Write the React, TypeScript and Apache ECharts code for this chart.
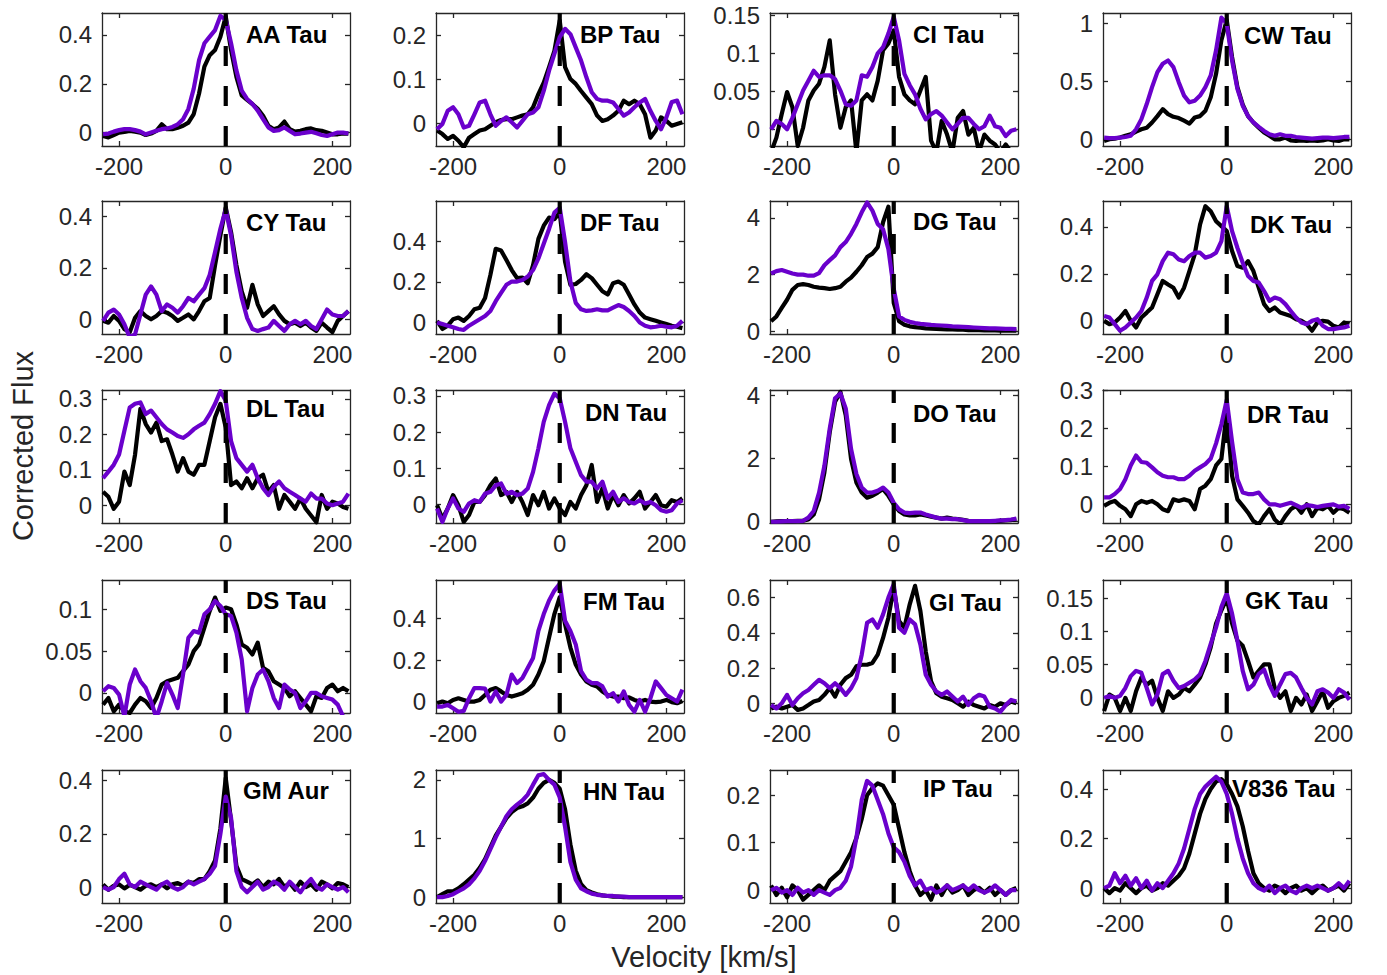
import React, { useEffect, useRef } from "react";
import * as echarts from "echarts";

// ---------------- DATA ----------------
const VELOCITY = [
  -230, -220, -210, -200, -190, -180, -170, -160, -150, -140,
  -130, -120, -110, -100, -90, -80, -70, -60, -50, -40,
  -30, -20, -10, 0, 10, 20, 30, 40, 50, 60,
  70, 80, 90, 100, 110, 120, 130, 140, 150, 160,
  170, 180, 190, 200, 210, 220, 230,
];

const X_TICKS = [-200, 0, 200];

const STARS = [
  "AA Tau", "BP Tau", "CI Tau", "CW Tau",
  "CY Tau", "DF Tau", "DG Tau", "DK Tau",
  "DL Tau", "DN Tau", "DO Tau", "DR Tau",
  "DS Tau", "FM Tau", "GI Tau", "GK Tau",
  "GM Aur", "HN Tau", "IP Tau", "V836 Tau",
];

const Y_MIN = [
  -0.055, -0.052, -0.022, -0.058,
  -0.057, -0.057, -0.1, -0.056,
  -0.05, -0.051, -0.04, -0.049,
  -0.024, -0.055, -0.055, -0.024,
  -0.06, -0.1, -0.027, -0.06,
];
const Y_MAX = [
  0.49, 0.25, 0.153, 1.09,
  0.46, 0.6, 4.6, 0.51,
  0.325, 0.316, 4.16, 0.3,
  0.135, 0.585, 0.7, 0.178,
  0.44, 2.17, 0.253, 0.477,
];
const Y_TICKS = [
  [0, 0.2, 0.4], [0, 0.1, 0.2], [0, 0.05, 0.1, 0.15], [0, 0.5, 1],
  [0, 0.2, 0.4], [0, 0.2, 0.4], [0, 2, 4], [0, 0.2, 0.4],
  [0, 0.1, 0.2, 0.3], [0, 0.1, 0.2, 0.3], [0, 2, 4], [0, 0.1, 0.2, 0.3],
  [0, 0.05, 0.1], [0, 0.2, 0.4], [0, 0.2, 0.4, 0.6], [0, 0.05, 0.1, 0.15],
  [0, 0.2, 0.4], [0, 1, 2], [0, 0.1, 0.2], [0, 0.2, 0.4],
];

const AA_TAU_BLACK = [
  -0.014, -0.02, -0.01, 0, 0.003, 0.007, 0.004, 0, -0.01, -0.004,
  0.007, 0.034, 0.014, 0.014, 0.02, 0.028, 0.041, 0.076, 0.16, 0.27,
  0.317, 0.338, 0.393, 0.476, 0.338, 0.228, 0.152, 0.134, 0.117, 0.097,
  0.069, 0.028, 0.014, 0.021, 0.045, 0.014, 0.004, 0.007, 0.014, 0.017,
  0.01, 0.007, 0, -0.007, -0.007, -0.003, -0.004,
];
const AA_TAU_PURPLE = [
  -0.007, -0.004, 0.004, 0.01, 0.014, 0.014, 0.01, 0.004, -0.007, 0,
  0.007, 0.014, 0.017, 0.023, 0.034, 0.055, 0.097, 0.18, 0.297, 0.366,
  0.393, 0.42, 0.478, 0.462, 0.366, 0.255, 0.172, 0.138, 0.117, 0.09,
  0.055, 0.021, 0.007, 0.01, 0.021, 0.007, -0.007, -0.004, 0, 0.003,
  -0.003, -0.01, -0.014, -0.007, 0, 0, -0.004,
];
const BP_TAU_BLACK = [
  -0.017, -0.025, -0.036, -0.029, -0.04, -0.055, -0.033, -0.025, -0.017, -0.014,
  -0.006, 0.002, 0.007, 0.009, 0.009, 0.013, 0.017, 0.02, 0.036, 0.066,
  0.092, 0.127, 0.164, 0.233, 0.127, 0.1, 0.089, 0.073, 0.058, 0.043,
  0.017, 0.005, 0.009, 0.017, 0.028, 0.051, 0.043, 0.051, 0.043, 0.02,
  -0.033, -0.017, 0.013, 0.005, -0.006, -0.002, 0.002,
];
const BP_TAU_PURPLE = [
  -0.014, -0.002, 0.028, 0.036, 0.02, -0.01, -0.006, 0.02, 0.047, 0.051,
  0.02, -0.006, 0.005, 0.013, 0.002, -0.01, 0.005, 0.02, 0.024, 0.036,
  0.073, 0.119, 0.157, 0.195, 0.214, 0.202, 0.172, 0.142, 0.104, 0.07,
  0.055, 0.051, 0.051, 0.047, 0.032, 0.017, 0.024, 0.036, 0.047, 0.055,
  0.028, 0.005, -0.014, 0.013, 0.048, 0.051, 0.02,
];
const CI_TAU_BLACK = [
  -0.03, -0.011, 0.02, 0.049, 0.029, -0.022, 0.002, 0.038, 0.051, 0.06,
  0.082, 0.117, 0.046, 0.002, 0.029, 0.038, -0.03, 0.038, 0.046, 0.038,
  0.064, 0.104, 0.113, 0.13, 0.069, 0.046, 0.038, 0.033, 0.051, 0.069,
  -0.015, -0.03, 0.011, -0.007, -0.03, 0.015, 0.024, -0.007, 0.002, -0.03,
  -0.007, -0.015, -0.02, -0.03, -0.02, -0.03, -0.03,
];
const CI_TAU_PURPLE = [
  0, 0.011, 0.007, 0, 0.015, 0.033, 0.051, 0.064, 0.077, 0.069,
  0.071, 0.071, 0.066, 0.051, 0.033, 0.031, 0.038, 0.071, 0.069, 0.082,
  0.1, 0.108, 0.126, 0.148, 0.117, 0.073, 0.058, 0.046, 0.027, 0.013,
  0.02, 0.024, 0.018, 0.009, 0, 0.007, 0.015, 0.015, 0.007, 0,
  0.004, 0.018, 0.004, 0.002, -0.009, -0.002, 0,
];
const CW_TAU_BLACK = [
  -0.015, 0, 0.006, 0.015, 0.03, 0.043, 0.067, 0.087, 0.1, 0.145,
  0.2, 0.26, 0.217, 0.194, 0.183, 0.16, 0.136, 0.188, 0.2, 0.246,
  0.362, 0.565, 0.855, 1.03, 0.71, 0.45, 0.3, 0.2, 0.145, 0.1,
  0.058, 0.03, 0, 0, 0.015, -0.01, -0.015, -0.01, -0.015, -0.01,
  -0.015, -0.01, 0, -0.01, -0.015, 0, 0,
];
const CW_TAU_PURPLE = [
  0.015, 0.01, 0.01, 0.015, 0.02, 0.03, 0.087, 0.174, 0.304, 0.45,
  0.58, 0.652, 0.68, 0.623, 0.493, 0.377, 0.319, 0.333, 0.377, 0.45,
  0.551, 0.768, 1.05, 1.0, 0.68, 0.435, 0.29, 0.2, 0.145, 0.107,
  0.072, 0.043, 0.03, 0.043, 0.03, 0.03, 0.02, 0.015, 0.01, 0.006,
  0.01, 0.015, 0.015, 0.01, 0.015, 0.02, 0.02,
];
const CY_TAU_BLACK = [
  -0.006, -0.013, 0.013, -0.006, -0.038, -0.05, 0.006, 0.032, 0.013, 0,
  0.013, 0.032, 0.026, 0.013, -0.006, 0.006, 0.019, 0, 0.032, 0.07,
  0.083, 0.211, 0.326, 0.435, 0.339, 0.211, 0.109, 0.045, 0.134, 0.058,
  0.013, 0.032, 0.051, 0.019, -0.006, -0.019, -0.013, -0.026, -0.013, -0.032,
  -0.045, -0.013, -0.032, -0.05, -0.006, 0.013, 0.032,
];
const CY_TAU_PURPLE = [
  -0.006, 0.026, 0.038, 0.019, -0.019, -0.07, -0.058, 0.019, 0.096, 0.128,
  0.096, 0.032, 0.058, 0.045, 0.026, 0.051, 0.083, 0.07, 0.096, 0.121,
  0.173, 0.262, 0.352, 0.428, 0.326, 0.185, 0.083, 0.006, -0.038, -0.045,
  -0.038, -0.032, -0.006, -0.026, -0.045, -0.019, -0.006, -0.019, -0.006, -0.026,
  -0.038, 0, 0.038, 0.019, 0.013, 0.013, 0.032,
];
const DF_TAU_BLACK = [
  0.008, -0.032, -0.016, 0.016, 0.024, 0.008, 0.032, 0.065, 0.073, 0.121,
  0.235, 0.364, 0.356, 0.308, 0.259, 0.219, 0.222, 0.194, 0.283, 0.413,
  0.478, 0.518, 0.51, 0.543, 0.3, 0.186, 0.19, 0.21, 0.238, 0.219,
  0.186, 0.154, 0.138, 0.194, 0.202, 0.186, 0.138, 0.089, 0.049, 0.024,
  0.016, 0.008, 0, -0.008, -0.016, -0.021, -0.028,
];
const DF_TAU_PURPLE = [
  0, -0.008, -0.016, -0.024, -0.032, -0.037, -0.016, 0, 0.016, 0.032,
  0.057, 0.105, 0.146, 0.186, 0.202, 0.202, 0.21, 0.227, 0.259, 0.316,
  0.389, 0.462, 0.543, 0.567, 0.397, 0.202, 0.097, 0.065, 0.057, 0.06,
  0.065, 0.06, 0.06, 0.073, 0.086, 0.076, 0.057, 0.032, 0, -0.016,
  -0.024, -0.021, -0.016, -0.021, -0.024, -0.016, 0.008,
];
const DG_TAU_BLACK = [
  0.35, 0.52, 0.82, 1.11, 1.46, 1.63, 1.66, 1.63, 1.57, 1.54,
  1.52, 1.49, 1.52, 1.57, 1.75, 1.89, 2.1, 2.33, 2.62, 2.74,
  2.97, 3.85, 4.4, 1.0, 0.35, 0.23, 0.17, 0.14, 0.12, 0.1,
  0.09, 0.08, 0.07, 0.06, 0.06, 0.05, 0.05, 0.04, 0.04, 0.04,
  0.03, 0.03, 0.03, 0.02, 0.02, 0.02, 0.02,
];
const DG_TAU_PURPLE = [
  2.04, 2.12, 2.16, 2.1, 2.04, 2.0, 2.0, 1.96, 1.96, 2.05,
  2.33, 2.51, 2.68, 2.97, 3.15, 3.44, 3.79, 4.2, 4.55, 4.26,
  3.79, 3.6, 2.9, 1.5, 0.52, 0.4, 0.33, 0.29, 0.26, 0.24,
  0.22, 0.21, 0.2, 0.19, 0.17, 0.16, 0.15, 0.14, 0.13, 0.12,
  0.11, 0.1, 0.1, 0.09, 0.08, 0.08, 0.07,
];
const DK_TAU_BLACK = [
  0, -0.014, -0.007, 0.014, 0.042, 0, -0.028, 0.014, 0.035, 0.057,
  0.113, 0.17, 0.155, 0.141, 0.099, 0.141, 0.212, 0.283, 0.41, 0.488,
  0.466, 0.424, 0.403, 0.382, 0.297, 0.233, 0.226, 0.254, 0.212, 0.141,
  0.071, 0.042, 0.057, 0.035, 0.028, 0.021, 0.007, 0, -0.014, -0.042,
  -0.007, 0, -0.003, -0.021, -0.028, -0.007, -0.014,
];
const DK_TAU_PURPLE = [
  0.021, 0.014, -0.014, -0.042, -0.028, -0.007, 0.014, 0.042, 0.099, 0.17,
  0.198, 0.254, 0.29, 0.283, 0.261, 0.254, 0.276, 0.29, 0.29, 0.269,
  0.276, 0.29, 0.339, 0.488, 0.382, 0.311, 0.247, 0.191, 0.17, 0.163,
  0.127, 0.085, 0.099, 0.092, 0.071, 0.042, 0.014, -0.007, -0.014, 0,
  0.007, -0.021, -0.035, -0.035, -0.031, -0.028, -0.021,
];
const DL_TAU_BLACK = [
  0.038, 0.024, -0.01, 0.01, 0.095, 0.057, 0.143, 0.272, 0.229, 0.205,
  0.233, 0.181, 0.186, 0.143, 0.095, 0.133, 0.095, 0.086, 0.114, 0.114,
  0.181, 0.248, 0.286, 0.219, 0.057, 0.067, 0.048, 0.076, 0.048, 0.076,
  0.086, 0.038, 0.057, -0.01, 0.029, 0.01, -0.01, 0.019, -0.01, -0.029,
  -0.048, 0.029, -0.01, 0.01, 0.005, -0.005, -0.01,
];
const DL_TAU_PURPLE = [
  0.076, 0.095, 0.114, 0.143, 0.21, 0.276, 0.286, 0.29, 0.257, 0.267,
  0.248, 0.229, 0.214, 0.205, 0.195, 0.19, 0.2, 0.214, 0.224, 0.233,
  0.257, 0.286, 0.322, 0.295, 0.181, 0.133, 0.114, 0.095, 0.114, 0.076,
  0.048, 0.029, 0.052, 0.067, 0.048, 0.038, 0.029, 0.019, 0.01, 0.033,
  0.019, 0.019, 0.005, 0, 0.005, 0.01, 0.033,
];
const DN_TAU_BLACK = [
  -0.002, -0.039, -0.011, 0.026, -0.002, -0.048, -0.029, 0.007, 0.007, 0.026,
  0.053, 0.072, 0.026, 0.035, 0.007, 0.035, 0.007, -0.029, 0.026, -0.002,
  0.035, -0.011, 0.017, -0.011, -0.029, 0.007, -0.011, 0.026, 0.053, 0.109,
  0.007, 0.044, -0.011, 0.026, -0.002, 0.026, 0.003, 0.017, 0.035, -0.011,
  0.007, 0.026, -0.002, -0.006, 0.012, 0.007, 0.017,
];
const DN_TAU_PURPLE = [
  -0.011, -0.048, -0.011, 0.017, -0.011, -0.02, 0.003, 0.012, 0.007, 0.03,
  0.035, 0.053, 0.058, 0.03, 0.035, 0.026, 0.03, 0.044, 0.09, 0.155,
  0.228, 0.274, 0.306, 0.293, 0.228, 0.155, 0.118, 0.081, 0.063, 0.063,
  0.044, 0.063, 0.017, 0.035, 0.007, 0.017, 0.007, 0.003, 0.012, 0.003,
  0.007, -0.002, -0.016, -0.02, -0.016, 0.003, 0.012,
];
const DO_TAU_BLACK = [
  0, 0.01, 0.02, 0.02, 0.02, 0.03, 0.03, 0.07, 0.23, 0.71,
  1.56, 2.83, 3.79, 4.1, 3.36, 1.98, 1.24, 0.92, 0.76, 0.82,
  0.92, 1.03, 0.82, 0.55, 0.34, 0.23, 0.2, 0.2, 0.23, 0.2,
  0.16, 0.13, 0.1, 0.13, 0.1, 0.08, 0.06, 0.03, 0.02, 0.02,
  0.02, 0.02, 0.02, 0.03, 0.04, 0.05, 0.07,
];
const DO_TAU_PURPLE = [
  0, 0, 0.01, 0.02, 0.02, 0.02, 0.03, 0.13, 0.34, 0.92,
  1.77, 2.94, 3.9, 4.05, 3.58, 2.3, 1.51, 1.08, 0.92, 0.92,
  0.98, 1.08, 0.92, 0.6, 0.39, 0.29, 0.27, 0.29, 0.29, 0.23,
  0.18, 0.13, 0.1, 0.1, 0.08, 0.08, 0.05, 0.02, 0.02, 0.02,
  0.02, 0.02, 0.03, 0.04, 0.05, 0.07, 0.1,
];
const DR_TAU_BLACK = [
  -0.004, 0.004, 0.009, -0.004, -0.013, -0.031, 0, 0.009, 0.004, 0.009,
  0, -0.013, -0.018, 0.013, 0.009, 0.013, 0.009, -0.013, 0.04, 0.049,
  0.066, 0.102, 0.119, 0.243, 0.075, 0.013, -0.004, -0.022, -0.044, -0.053,
  -0.031, -0.013, -0.04, -0.053, -0.031, -0.013, -0.004, -0.022, 0, -0.031,
  -0.009, -0.013, -0.004, -0.022, -0.009, -0.013, -0.022,
];
const DR_TAU_PURPLE = [
  0.018, 0.018, 0.027, 0.04, 0.066, 0.102, 0.128, 0.111, 0.109, 0.097,
  0.084, 0.075, 0.071, 0.071, 0.066, 0.066, 0.075, 0.088, 0.097, 0.106,
  0.12, 0.16, 0.21, 0.274, 0.164, 0.066, 0.031, 0.027, 0.027, 0.031,
  0.013, 0, 0, -0.004, 0, 0.004, -0.002, -0.009, -0.002, -0.004,
  -0.007, -0.004, -0.002, 0, -0.006, -0.004, -0.012,
];
const DS_TAU_BLACK = [
  -0.014, -0.006, -0.022, -0.014, -0.022, -0.024, -0.014, -0.006, -0.01, -0.018,
  -0.006, 0.01, 0.014, 0.016, 0.018, 0.026, 0.034, 0.05, 0.058, 0.078,
  0.098, 0.114, 0.098, 0.102, 0.1, 0.082, 0.058, 0.054, 0.046, 0.06,
  0.03, 0.026, 0.014, 0.01, 0.006, -0.004, 0.002, -0.006, -0.014, -0.022,
  -0.004, -0.006, 0.006, 0.01, 0.002, 0.006, 0.002,
];
const DS_TAU_PURPLE = [
  0.002, 0.008, 0.006, -0.002, -0.028, 0.01, 0.028, 0.014, 0.006, -0.01,
  -0.03, -0.01, 0.012, -0.002, -0.018, 0.022, 0.066, 0.074, 0.072, 0.094,
  0.1, 0.11, 0.104, 0.094, 0.092, 0.072, 0.04, -0.022, 0.006, 0.022,
  0.028, 0.014, -0.006, -0.018, 0.01, 0.004, 0, -0.018, -0.01, 0,
  0, -0.004, -0.006, -0.008, -0.014, -0.028, -0.03,
];
const FM_TAU_BLACK = [
  -0.008, 0, -0.008, 0.008, 0.016, 0.008, 0, 0, 0.008, 0.032,
  0.057, 0.065, 0.049, 0.032, 0.024, 0.032, 0.04, 0.057, 0.081, 0.13,
  0.194, 0.308, 0.421, 0.502, 0.372, 0.26, 0.178, 0.13, 0.097, 0.081,
  0.073, 0.049, 0.032, 0.024, 0.024, 0.016, 0.02, 0.008, 0, 0.008,
  0, -0.003, 0, 0.008, -0.003, -0.008, 0.003,
];
const FM_TAU_PURPLE = [
  -0.024, -0.024, -0.016, -0.032, -0.049, -0.045, 0.016, 0.065, 0.065, 0.062,
  0, 0.049, 0, 0.032, 0.13, 0.089, 0.113, 0.162, 0.21, 0.34,
  0.421, 0.486, 0.534, 0.567, 0.389, 0.34, 0.275, 0.146, 0.105, 0.089,
  0.089, 0.073, 0.024, 0.04, 0, 0.049, -0.016, -0.049, 0.008, -0.049,
  0.016, 0.097, 0.065, 0.032, 0.016, 0, 0.057,
];
const GI_TAU_BLACK = [
  -0.029, -0.019, -0.029, -0.019, -0.01, -0.038, -0.029, -0.01, 0.01, 0.019,
  0.048, 0.086, 0.038, 0.105, 0.143, 0.162, 0.21, 0.219, 0.219, 0.229,
  0.276, 0.371, 0.486, 0.657, 0.467, 0.429, 0.562, 0.667, 0.524, 0.295,
  0.124, 0.057, 0.038, 0.029, 0.019, 0, -0.019, 0.01, -0.01, -0.019,
  -0.029, -0.01, -0.019, 0, -0.01, 0.01, 0,
];
const GI_TAU_PURPLE = [
  -0.01, -0.029, 0, 0.048, -0.01, 0.029, 0.057, 0.076, 0.105, 0.133,
  0.114, 0.086, 0.114, 0.086, 0.048, 0.086, 0.143, 0.276, 0.457, 0.476,
  0.429, 0.505, 0.6, 0.676, 0.429, 0.4, 0.476, 0.448, 0.333, 0.162,
  0.105, 0.067, 0.048, 0.067, 0.038, 0.01, 0.038, -0.01, 0.029, 0.048,
  0.038, -0.019, -0.029, -0.048, -0.01, 0.019, 0.01,
];
const GK_TAU_BLACK = [
  -0.021, 0.004, -0.001, -0.021, -0.001, -0.021, 0.009, 0.03, 0.019, 0.025,
  -0.001, -0.021, 0.009, -0.001, 0.004, 0.014, 0.009, 0.019, 0.03, 0.05,
  0.076, 0.112, 0.132, 0.15, 0.112, 0.086, 0.078, 0.055, 0.03, 0.04,
  0.05, 0.05, 0.014, -0.001, 0.009, -0.021, -0.001, -0.011, 0.004, -0.021,
  -0.006, 0.009, -0.016, -0.006, -0.001, 0.002, 0.007,
];
const GK_TAU_PURPLE = [
  -0.001, 0.002, -0.001, 0.002, 0.014, 0.032, 0.04, 0.037, 0.014, -0.011,
  0.004, 0.035, 0.04, 0.025, 0.014, 0.017, 0.022, 0.027, 0.035, 0.055,
  0.081, 0.106, 0.137, 0.158, 0.127, 0.086, 0.04, 0.012, 0.019, 0.035,
  0.042, 0.019, 0.002, 0.019, 0.035, 0.037, 0.03, 0.014, -0.001, -0.011,
  0.009, 0.012, 0.007, -0.001, 0.012, 0.007, -0.004,
];
const GM_AUR_BLACK = [
  0.01, -0.01, 0.005, 0.01, -0.005, 0.008, 0, -0.01, 0.005, 0.01,
  0, 0.01, -0.005, 0.01, 0.015, 0.005, 0.02, 0.015, 0.03, 0.03,
  0.06, 0.1, 0.22, 0.41, 0.25, 0.08, 0.03, 0.02, 0.01, 0.025,
  0, 0.02, 0.01, 0.03, 0, 0.015, -0.01, 0.02, 0, 0.01,
  -0.01, 0.02, 0.01, -0.005, 0.015, 0.01, 0,
];
const GM_AUR_PURPLE = [
  0, -0.01, 0, 0.03, 0.05, 0.01, 0, 0.02, 0.01, 0,
  -0.01, 0.01, 0.02, 0, -0.01, 0, 0.02, 0.01, 0.02, 0.03,
  0.05, 0.08, 0.2, 0.34, 0.26, 0.06, 0, -0.02, 0, 0.02,
  -0.01, 0, 0.02, 0.01, -0.01, 0.02, 0, -0.02, 0.01, 0.03,
  0, -0.01, 0.01, 0, -0.01, 0, -0.02,
];
const HN_TAU_BLACK = [
  0, 0.05, 0.1, 0.1, 0.15, 0.22, 0.3, 0.38, 0.5, 0.65,
  0.85, 1.05, 1.2, 1.35, 1.45, 1.52, 1.55, 1.6, 1.7, 1.85,
  1.95, 2.0, 1.95, 1.85, 1.5, 0.9, 0.45, 0.22, 0.12, 0.08,
  0.05, 0.03, 0.02, 0.01, 0.01, 0, 0, 0, 0, 0,
  0, 0, 0, 0, 0, 0, 0,
];
const HN_TAU_PURPLE = [
  0, 0, 0.02, 0.05, 0.1, 0.15, 0.22, 0.32, 0.45, 0.62,
  0.82, 1.02, 1.2, 1.38, 1.5, 1.58, 1.65, 1.75, 1.92, 2.08,
  2.1, 2.0, 1.92, 1.7, 1.2, 0.6, 0.3, 0.15, 0.1, 0.06,
  0.04, 0.03, 0.02, 0.02, 0.01, 0.01, 0, 0, 0, 0,
  0, 0, 0, 0, 0, 0, 0,
];
const IP_TAU_BLACK = [
  0.01, -0.01, 0.005, -0.015, 0.01, 0, -0.02, -0.01, 0, 0.01,
  0, 0.02, 0.03, 0.04, 0.06, 0.08, 0.11, 0.15, 0.2, 0.215,
  0.225, 0.22, 0.2, 0.18, 0.13, 0.08, 0.04, 0.01, -0.01, 0,
  -0.02, 0.01, -0.01, 0.01, -0.005, 0, 0.01, -0.01, 0, 0.005,
  -0.005, 0.005, -0.01, 0, -0.01, 0, 0.005,
];
const IP_TAU_PURPLE = [
  0, 0.005, -0.005, 0, -0.01, 0.005, -0.005, 0, -0.01, 0,
  -0.005, -0.01, 0, 0.005, 0.02, 0.05, 0.11, 0.19, 0.23, 0.22,
  0.19, 0.16, 0.12, 0.09, 0.08, 0.06, 0.03, 0.01, 0.02, 0,
  0.005, -0.005, 0, 0.01, 0, 0.005, 0.01, 0, 0.01, 0,
  -0.005, 0, 0.01, 0, -0.01, 0, 0,
];
const V836_TAU_BLACK = [
  0, -0.02, 0, -0.01, 0.02, 0, -0.02, 0, 0.01, -0.01,
  0, 0.02, 0.01, 0.03, 0.05, 0.08, 0.14, 0.22, 0.3, 0.36,
  0.4, 0.43, 0.44, 0.42, 0.38, 0.33, 0.25, 0.15, 0.06, 0.02,
  0, -0.01, 0.01, 0, -0.02, 0, 0.01, -0.01, 0, -0.02,
  0, 0.01, -0.01, 0, 0.01, -0.01, 0.02,
];
const V836_TAU_PURPLE = [
  0, 0.01, 0.06, 0.02, 0.05, 0.01, 0.04, 0, 0.03, -0.01,
  0.02, 0, 0.03, 0.06, 0.1, 0.16, 0.24, 0.32, 0.38, 0.41,
  0.43, 0.45, 0.43, 0.38, 0.3, 0.2, 0.12, 0.06, 0.02, 0,
  -0.01, 0.01, -0.02, 0, 0.01, -0.01, -0.02, 0, 0.01, 0,
  0.01, 0, -0.01, 0, 0.02, 0, 0.03,
];

const BLACK_SERIES = [
  AA_TAU_BLACK, BP_TAU_BLACK, CI_TAU_BLACK, CW_TAU_BLACK,
  CY_TAU_BLACK, DF_TAU_BLACK, DG_TAU_BLACK, DK_TAU_BLACK,
  DL_TAU_BLACK, DN_TAU_BLACK, DO_TAU_BLACK, DR_TAU_BLACK,
  DS_TAU_BLACK, FM_TAU_BLACK, GI_TAU_BLACK, GK_TAU_BLACK,
  GM_AUR_BLACK, HN_TAU_BLACK, IP_TAU_BLACK, V836_TAU_BLACK,
];
const PURPLE_SERIES = [
  AA_TAU_PURPLE, BP_TAU_PURPLE, CI_TAU_PURPLE, CW_TAU_PURPLE,
  CY_TAU_PURPLE, DF_TAU_PURPLE, DG_TAU_PURPLE, DK_TAU_PURPLE,
  DL_TAU_PURPLE, DN_TAU_PURPLE, DO_TAU_PURPLE, DR_TAU_PURPLE,
  DS_TAU_PURPLE, FM_TAU_PURPLE, GI_TAU_PURPLE, GK_TAU_PURPLE,
  GM_AUR_PURPLE, HN_TAU_PURPLE, IP_TAU_PURPLE, V836_TAU_PURPLE,
];

// ---------------- LAYOUT / STYLE ----------------
const X_MIN = -232;
const X_MAX = 233;
const COL_LEFT = [102, 436, 770, 1103];
const ROW_TOP = [13, 201, 390, 580, 770];
const PANEL_W = 248;
const PANEL_H = 133;
const TITLE_DX = [
  144, 144, 143, 141,
  144, 144, 143, 147,
  144, 149, 143, 144,
  144, 147, 159, 142,
  141, 147, 153, 129,
];
const TITLE_DY = [
  21, 21, 21, 22,
  21, 21, 20, 23,
  18, 22, 23, 24,
  20, 21, 22, 20,
  20, 21, 18, 18,
];
const FONT = '"Liberation Sans", Arial, Helvetica, sans-serif';
const AXIS_COLOR = "#262626";
const PURPLE = "#6A00CC";
const LINE_W = 4.2;

function buildOption() {
  const grid: any[] = [];
  const xAxis: any[] = [];
  const yAxis: any[] = [];
  const series: any[] = [];
  const graphic: any[] = [];
  const axisLine = { show: true, onZero: false, lineStyle: { color: AXIS_COLOR, width: 1.3 } };

  STARS.forEach((name, i) => {
    const col = i % 4;
    const row = Math.floor(i / 4);
    const left = COL_LEFT[col];
    const top = ROW_TOP[row];
    grid.push({ left, top, width: PANEL_W, height: PANEL_H, containLabel: false, outerBoundsMode: "none" });

    const xBase = {
      gridIndex: i, type: "value", min: X_MIN, max: X_MAX,
      axisLine, splitLine: { show: false },
      axisTick: { show: true, inside: true, length: 5, customValues: X_TICKS, lineStyle: { color: AXIS_COLOR, width: 1.3 } },
    };
    xAxis.push({
      ...xBase, position: "bottom",
      axisLabel: { show: true, customValues: X_TICKS, fontSize: 24, color: AXIS_COLOR, margin: 8, fontFamily: FONT },
    });
    xAxis.push({ ...xBase, position: "top", axisLabel: { show: false } });

    const yTicks = Y_TICKS[i];
    const yBase = {
      gridIndex: i, type: "value", min: Y_MIN[i], max: Y_MAX[i],
      axisLine, splitLine: { show: false },
      axisTick: { show: true, inside: true, length: 5, customValues: yTicks, lineStyle: { color: AXIS_COLOR, width: 1.3 } },
    };
    yAxis.push({
      ...yBase, position: "left",
      axisLabel: { show: true, customValues: yTicks, fontSize: 24, color: AXIS_COLOR, margin: 10, fontFamily: FONT,
        formatter: (v: number) => String(v) },
    });
    yAxis.push({ ...yBase, position: "right", axisLabel: { show: false } });

    series.push({
      type: "line", xAxisIndex: 2 * i, yAxisIndex: 2 * i,
      data: VELOCITY.map((v, k) => [v, BLACK_SERIES[i][k]]),
      symbol: "none", lineStyle: { color: "#000000", width: LINE_W, join: "round" }, z: 2, silent: true,
    });
    series.push({
      type: "line", xAxisIndex: 2 * i, yAxisIndex: 2 * i,
      data: VELOCITY.map((v, k) => [v, PURPLE_SERIES[i][k]]),
      symbol: "none", lineStyle: { color: PURPLE, width: LINE_W, join: "round" }, z: 3, silent: true,
    });
    series.push({
      type: "line", xAxisIndex: 2 * i, yAxisIndex: 2 * i,
      data: [[0, Y_MIN[i]], [0, Y_MAX[i]]],
      symbol: "none", lineStyle: { color: "#000000", width: 4.2, type: [20, 20], cap: "butt" }, z: 4, silent: true,
    });

    graphic.push({
      type: "text", x: left + TITLE_DX[i], y: top + TITLE_DY[i], z: 100,
      style: { text: name, font: `bold 24px ${FONT}`, fill: "#000000", textAlign: "left", textVerticalAlign: "middle" },
    });
  });

  graphic.push({
    type: "text", x: 23, y: 446, rotation: Math.PI / 2,
    style: { text: "Corrected Flux", font: `29px ${FONT}`, fill: AXIS_COLOR, textAlign: "center", textVerticalAlign: "middle" },
  });
  graphic.push({
    type: "text", x: 704, y: 957,
    style: { text: "Velocity [km/s]", font: `29px ${FONT}`, fill: AXIS_COLOR, textAlign: "center", textVerticalAlign: "middle" },
  });

  return {
    animation: false,
    backgroundColor: "#ffffff",
    grid, xAxis, yAxis, series, graphic,
  };
}

export default function App() {
  const ref = useRef<HTMLDivElement>(null);
  useEffect(() => {
    if (!ref.current) return;
    const chart = echarts.init(ref.current, undefined, { renderer: "svg" });
    chart.setOption(buildOption() as any);
    return () => chart.dispose();
  }, []);
  return (
    <div
      ref={ref}
      style={{ position: "absolute", left: 0, top: 0, width: 1387, height: 975, background: "#fff" }}
    />
  );
}
